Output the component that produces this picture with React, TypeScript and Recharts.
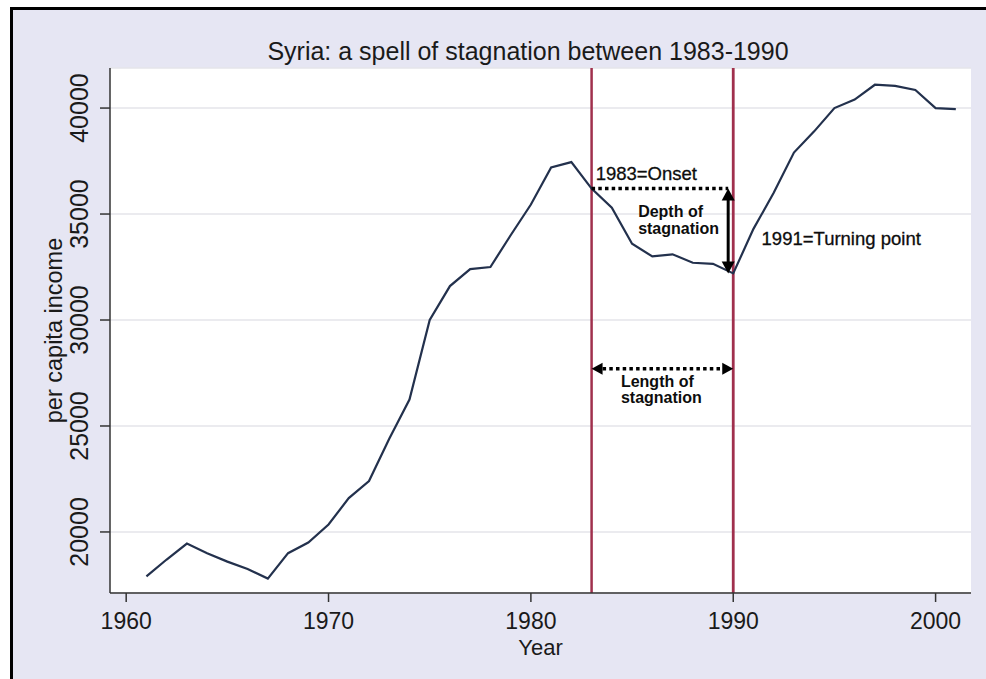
import React from 'react';
import {
  LineChart,
  Line,
  XAxis,
  YAxis,
  CartesianGrid,
  ReferenceLine,
  ReferenceDot,
  Label,
} from 'recharts';

// per capita income, Syria 1961-2001
const years = [
  1961, 1962, 1963, 1964, 1965, 1966, 1967, 1968, 1969, 1970,
  1971, 1972, 1973, 1974, 1975, 1976, 1977, 1978, 1979, 1980,
  1981, 1982, 1983, 1984, 1985, 1986, 1987, 1988, 1989, 1990,
  1991, 1992, 1993, 1994, 1995, 1996, 1997, 1998, 1999, 2000, 2001,
];
const income = [
  17900, 18700, 19450, 19000, 18600, 18250, 17800, 19000, 19500, 20350,
  21600, 22400, 24400, 26250, 30000, 31600, 32400, 32500, 34000, 35450,
  37200, 37450, 36200, 35300, 33600, 33000, 33100, 32700, 32650, 32200,
  34300, 36000, 37900, 38900, 40000, 40400, 41100, 41050, 40850, 40000, 39950,
];

const xTicks = [1960, 1970, 1980, 1990, 2000];
const yTicks = [20000, 25000, 30000, 35000, 40000];

// the stagnation spell
const spellStart = 1983;
const spellEnd = 1990;
const onsetValue = 36200;
const troughValue = 32200;
const depthArrowYear = 1989.75;
const lengthArrowValue = 27700;

const notes = [
  { year: 1983.2, value: 36600, lines: ['1983=Onset'], bold: false },
  { year: 1985.3, value: 34860, lines: ['Depth of', 'stagnation'], bold: true },
  { year: 1991.4, value: 33540, lines: ['1991=Turning point'], bold: false },
  { year: 1984.45, value: 26840, lines: ['Length of', 'stagnation'], bold: true },
];

const data = years.map((year, i) => ({ year, income: income[i] }));

const FONT = '"Liberation Sans", Arial, Helvetica, sans-serif';
const INK = '#1a1a1a';
const SPELL = '#a0304d';

const YTick = (props: any) => {
  const { x, y, payload } = props;
  const bx = x - 10;
  return (
    <text
      x={bx}
      y={y}
      transform={`rotate(-90, ${bx}, ${y})`}
      textAnchor="middle"
      fontFamily={FONT}
      fontSize={25}
      fill={INK}
    >
      {payload.value}
    </text>
  );
};

const XTick = (props: any) => {
  const { x, y, payload } = props;
  return (
    <text x={x} y={y + 25} textAnchor="middle" fontFamily={FONT} fontSize={23} fill={INK}>
      {payload.value}
    </text>
  );
};

// solid double-headed arrow (depth)
const VArrow = (p: any) => {
  const { x1, y1, x2, y2 } = p;
  const h = 12;
  const w = 6.5;
  return (
    <g>
      <line x1={x1} y1={y1 + h - 1} x2={x2} y2={y2 - h + 1} stroke="#000" strokeWidth={3} />
      <polygon points={`${x1},${y1} ${x1 - w},${y1 + h} ${x1 + w},${y1 + h}`} fill="#000" />
      <polygon points={`${x2},${y2} ${x2 - w},${y2 - h} ${x2 + w},${y2 - h}`} fill="#000" />
    </g>
  );
};

// dotted double-headed arrow (length)
const HArrow = (p: any) => {
  const { x1, y1, x2, y2 } = p;
  const h = 11;
  const w = 6;
  return (
    <g>
      <line
        x1={x1 + h}
        y1={y1}
        x2={x2 - h}
        y2={y2}
        stroke="#000"
        strokeWidth={3.5}
        strokeDasharray="3.5 3.2"
      />
      <polygon points={`${x1},${y1} ${x1 + h},${y1 - w} ${x1 + h},${y1 + w}`} fill="#000" />
      <polygon points={`${x2},${y2} ${x2 - h},${y2 - w} ${x2 - h},${y2 + w}`} fill="#000" />
    </g>
  );
};

const noteShape = (lines: string[], bold: boolean) => (p: any) => (
  <text
    x={p.cx}
    y={p.cy}
    fontFamily={FONT}
    fontSize={bold ? 16 : 18.5}
    fontWeight={bold ? 'bold' : 'normal'}
    fill="#0d0d0d"
    stroke={bold ? 'none' : '#0d0d0d'}
    strokeWidth={bold ? 0 : 0.3}
  >
    {lines.map((t, i) => (
      <tspan key={t} x={p.cx} dy={i === 0 ? 0 : 16.5}>
        {t}
      </tspan>
    ))}
  </text>
);

export default function App() {
  return (
    <div style={{ position: 'absolute', left: 0, top: 0, width: 986, height: 679, background: '#fff', overflow: 'hidden' }}>
      <div
        style={{
          position: 'absolute',
          left: 10,
          top: 7,
          width: 976,
          height: 672,
          background: '#e6e6f3',
          borderTop: '3px solid #000',
          borderLeft: '3px solid #000',
          boxSizing: 'border-box',
        }}
      />
      <div
        style={{
          position: 'absolute',
          left: 0,
          top: 39,
          width: 1056,
          textAlign: 'center',
          fontFamily: FONT,
          fontSize: 25,
          lineHeight: '25px',
          color: INK,
          whiteSpace: 'nowrap',
        }}
      >
        Syria: a spell of stagnation between 1983-1990
      </div>
      <div style={{ position: 'absolute', left: 0, top: 0 }}>
        <LineChart width={986} height={679} data={data} margin={{ top: 68, right: 15, bottom: 6, left: 10 }}>
          <CartesianGrid vertical={false} stroke="#e4e4ea" strokeWidth={1.5} fill="#ffffff" />
          <XAxis
            dataKey="year"
            type="number"
            domain={[1959.2, 2001.75]}
            ticks={xTicks}
            allowDataOverflow
            height={80}
            tick={<XTick />}
            tickSize={9}
            tickLine={{ stroke: '#333', strokeWidth: 1.5 }}
            axisLine={{ stroke: '#333', strokeWidth: 1.5 }}
          >
            <Label
              content={(p: any) => {
                const vb = p.viewBox;
                return (
                  <text
                    x={vb.x + vb.width / 2}
                    y={vb.y + 62}
                    textAnchor="middle"
                    fontFamily={FONT}
                    fontSize={22}
                    fill={INK}
                  >
                    Year
                  </text>
                );
              }}
            />
          </XAxis>
          <YAxis
            type="number"
            domain={[17120, 41890]}
            ticks={yTicks}
            allowDataOverflow
            width={100}
            tick={<YTick />}
            tickSize={10}
            tickLine={{ stroke: '#333', strokeWidth: 1.5 }}
            axisLine={{ stroke: '#333', strokeWidth: 1.5 }}
          >
            <Label
              content={(p: any) => {
                const vb = p.viewBox;
                const bx = vb.x + 52;
                const cy = vb.y + vb.height / 2;
                return (
                  <text
                    x={bx}
                    y={cy}
                    transform={`rotate(-90, ${bx}, ${cy})`}
                    textAnchor="middle"
                    fontFamily={FONT}
                    fontSize={23.5}
                    fill={INK}
                  >
                    per capita income
                  </text>
                );
              }}
            />
          </YAxis>
          <ReferenceLine x={spellStart} stroke={SPELL} strokeWidth={2.5} />
          <ReferenceLine x={spellEnd} stroke={SPELL} strokeWidth={2.8} />
          <Line
            type="linear"
            dataKey="income"
            stroke="#23314d"
            strokeWidth={2.2}
            dot={false}
            isAnimationActive={false}
          />
          <ReferenceLine
            segment={[
              { x: spellStart, y: onsetValue },
              { x: depthArrowYear, y: onsetValue },
            ]}
            stroke="#000"
            strokeWidth={3.5}
            strokeDasharray="3.5 3.2"
          />
          <ReferenceLine
            segment={[
              { x: depthArrowYear, y: onsetValue },
              { x: depthArrowYear, y: troughValue },
            ]}
            shape={VArrow}
          />
          <ReferenceLine
            segment={[
              { x: spellStart, y: lengthArrowValue },
              { x: spellEnd, y: lengthArrowValue },
            ]}
            shape={HArrow}
          />
          {notes.map((n) => (
            <ReferenceDot
              key={n.lines[0]}
              x={n.year}
              y={n.value}
              r={1}
              shape={noteShape(n.lines, n.bold)}
            />
          ))}
        </LineChart>
      </div>
    </div>
  );
}
